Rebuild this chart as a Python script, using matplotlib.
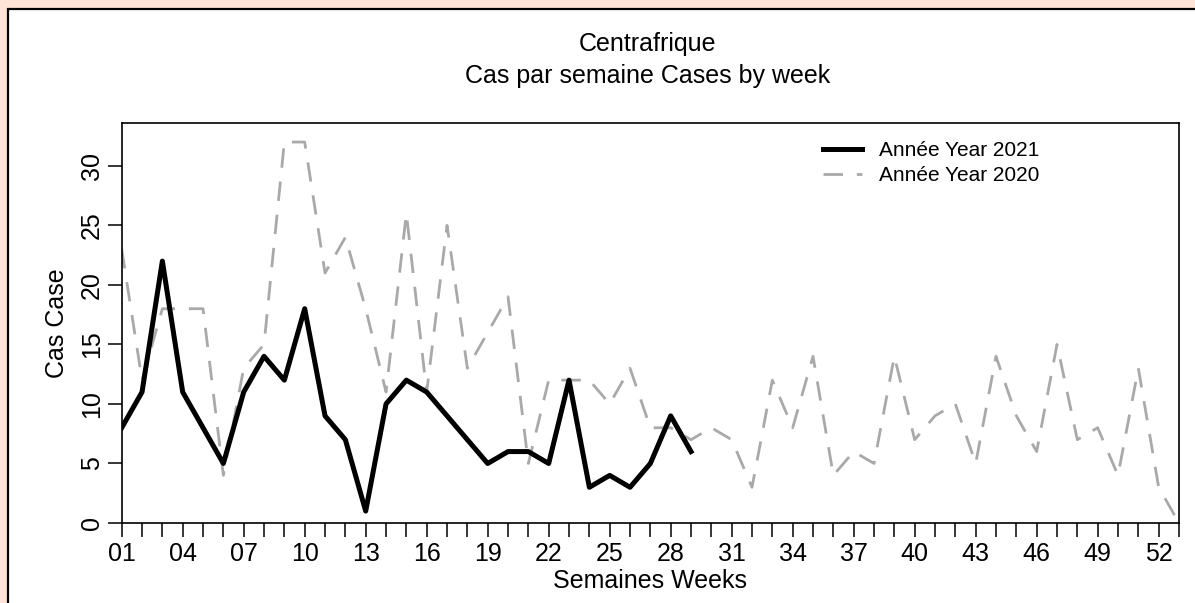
import numpy as np
import matplotlib.pyplot as plt
from matplotlib.patches import Rectangle

plt.rcParams['font.family'] = ['Liberation Sans', 'DejaVu Sans']

# weekly cases
weeks_2021 = list(range(1, 30))
cases_2021 = [8, 11, 22, 11, 8, 5, 11, 14, 12, 18, 9, 7, 1, 10, 12, 11, 9, 7, 5, 6,
              6, 5, 12, 3, 4, 3, 5, 9, 6]
weeks_2020 = list(range(1, 54))
cases_2020 = [23, 12, 18, 18, 18, 4, 13, 15, 32, 32, 21, 24, 18, 11, 26, 11, 25, 13, 16, 19,
              5, 12, 12, 12, 10, 13, 8, 8, 7, 8, 7, 3, 12, 8, 14, 4, 6, 5, 14, 7,
              9, 10, 5, 14, 9, 6, 15, 7, 8, 4, 13, 3, 0]
xtick_weeks = list(range(1, 54))
ytick_vals = [0, 5, 10, 15, 20, 25, 30]

W, H = 1195, 603
fig = plt.figure(figsize=(W / 100, H / 100), dpi=100, facecolor='#FDE4D6')

# window-like panel behind the chart
bg = fig.add_axes([0, 0, 1, 1], zorder=-10)
bg.set_xlim(0, W)
bg.set_ylim(H, 0)
bg.axis('off')
bg.add_patch(Rectangle((8, 9), 1200, 640, facecolor='white', edgecolor='none'))
bg.plot([8, 8, W], [H, 9, 9], color='black', lw=1.6, solid_joinstyle='miter')

def shade(extent, n, vertical, a0, a1):
    g = np.zeros((n, 1, 4)) if vertical else np.zeros((1, n, 4))
    alpha = np.linspace(a0, a1, n)
    if vertical:
        g[:, 0, 3] = alpha
    else:
        g[0, :, 3] = alpha
    bg.imshow(g, extent=extent, aspect='auto', interpolation='bilinear')

shade((9, W, 24, 10), 20, True, 0.35, 0.0)         # top
shade((9, 24, H, 10), 20, False, 0.35, 0.0)        # left
shade((9, W, H, 590), 20, True, 0.0, 0.18)         # bottom
shade((1183, W, H, 10), 20, False, 0.0, 0.12)      # right
bg.set_xlim(0, W)
bg.set_ylim(H, 0)

ax = fig.add_axes([121.7 / W, 80 / H, (1179 - 121.7) / W, 400 / H])
ax.set_facecolor('white')

ax.plot(weeks_2020, cases_2020, color='#A9A9A9', lw=2.0, dashes=(7, 5),
        label='Année Year 2020')
ax.plot(weeks_2021, cases_2021, color='black', lw=3.6, solid_joinstyle='round',
        label='Année Year 2021')

ax.set_xlim(1, 53)
ax.set_ylim(0, 33.6)
ax.set_xticks(xtick_weeks)
ax.set_xticklabels([f'{w:02d}' if (w - 1) % 3 == 0 else '' for w in xtick_weeks])
ax.set_yticks(ytick_vals)
ax.set_yticklabels([str(v) for v in ytick_vals], rotation=90, va='center')
ax.tick_params(axis='both', length=10, width=1.1, labelsize=18, direction='out')
ax.tick_params(axis='x', pad=4)
ax.tick_params(axis='y', pad=3)
for s in ax.spines.values():
    s.set_linewidth(1.2)

ax.set_xlabel('Semaines Weeks', fontsize=18, labelpad=2)
ax.set_ylabel('Cas Case', fontsize=18, labelpad=8)

fig.text(648 / W, 1 - 44 / H, 'Centrafrique', ha='center', va='center', fontsize=18)
fig.text(648 / W, 1 - 76 / H, 'Cas par semaine Cases by week', ha='center', va='center',
         fontsize=18)

h, l = ax.get_legend_handles_labels()
ax.legend(h[::-1], l[::-1], loc='upper left', bbox_to_anchor=(823 / W, 1 - 141 / H),
          bbox_transform=fig.transFigure, frameon=False, fontsize=15,
          handlelength=1.85, handletextpad=0.85, labelspacing=0.3,
          borderpad=0, borderaxespad=0)

fig.savefig('out.png', dpi=100, facecolor=fig.get_facecolor())
